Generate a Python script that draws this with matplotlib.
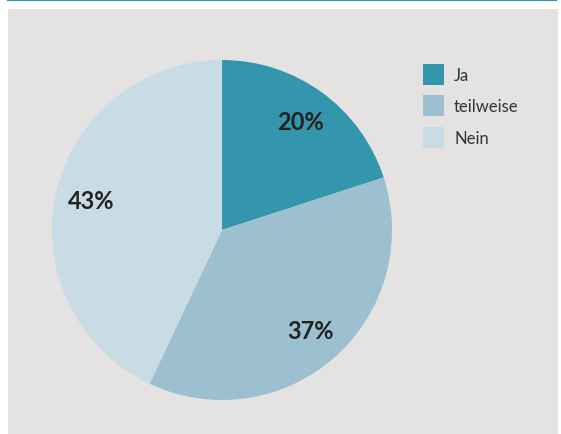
import matplotlib
matplotlib.use("Agg")
import matplotlib.pyplot as plt
from matplotlib.patches import Rectangle
from matplotlib.lines import Line2D

# Data
categories = ["Ja", "teilweise", "Nein"]
shares = [20, 37, 43]
colors = ["#3496ad", "#9cc0d0", "#c9dce6"]

W, H = 561, 435
fig = plt.figure(figsize=(W / 100, H / 100), dpi=100)
fig.patch.set_facecolor("white")

# grey panel and teal rule at the top
fig.add_artist(Rectangle((8 / W, 0), (558 - 8) / W, (H - 10) / H,
                         transform=fig.transFigure, facecolor="#e4e3e1",
                         edgecolor="none", zorder=0))
fig.add_artist(Line2D([8 / W, 556 / W], [1 - 1 / H, 1 - 1 / H],
                      transform=fig.transFigure, color="#2e96ad", lw=1.6))

# pie: centre (222, 231) px, radius 170 px
cx, cy, r = 222, 231, 170
ax = fig.add_axes([(cx - r) / W, (H - cy - r) / H, 2 * r / W, 2 * r / H])
ax.set_facecolor("none")
wedges, texts = ax.pie(shares, colors=colors, startangle=90, counterclock=False,
                       radius=1.0, wedgeprops=dict(linewidth=0))
ax.set_xlim(-1, 1)
ax.set_ylim(-1, 1)
ax.set_aspect("auto")
ax.axis("off")

# percentage labels
import numpy as np
start = 90.0
for val in shares:
    mid = start - val * 3.6 / 2
    start -= val * 3.6
    x, y = 0.79 * np.cos(np.radians(mid)), 0.79 * np.sin(np.radians(mid))
    ax.text(x, y, f"{val}%", ha="center", va="center", fontsize=17,
            fontweight="bold", family="Lato", color="#222222")

# legend
for i, (lab, col) in enumerate(zip(categories, colors)):
    top = 65 + i * 31.3
    fig.add_artist(Rectangle((423 / W, 1 - (top + 21) / H), 21 / W, 21 / H,
                             transform=fig.transFigure, facecolor=col,
                             edgecolor="none"))
    fig.text(454 / W, 1 - (top + 11) / H, lab, ha="left", va="center",
             fontsize=12, family="Lato", color="#333333")

fig.savefig("out.png", dpi=100)
